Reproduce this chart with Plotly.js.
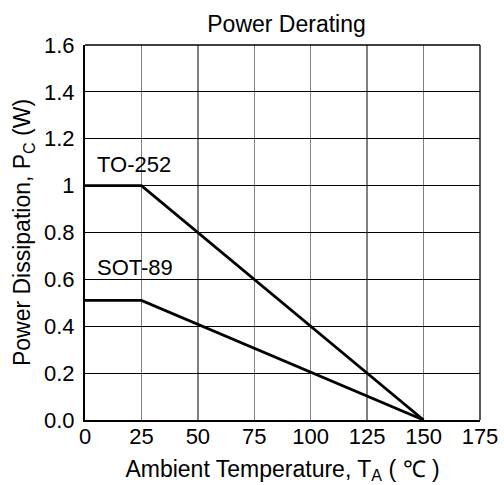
<!DOCTYPE html>
<html><head><meta charset="utf-8">
<script src="https://cdn.plot.ly/plotly-3.0.1.min.js"></script>
<style>html,body{margin:0;padding:0;background:#fff}#chart{width:504px;height:485px}</style>
</head><body><div id="chart"></div>
<script>
const temps = [0, 25, 150];
const to252 = [1.0, 1.0, 0.0];
const sot89 = [0.51, 0.51, 0.0];
const xTicks = [0, 25, 50, 75, 100, 125, 150, 175];
const yTicks = [0, 0.2, 0.4, 0.6, 0.8, 1.0, 1.2, 1.4, 1.6];
const yTickLabels = ['0.0', '0.2', '0.4', '0.6', '0.8', '1', '1.2', '1.4', '1.6'];
const seriesLabels = ['TO-252', 'SOT-89'];
const labelPos = [[4.5, 1.09], [4.5, 0.65]];

const font = 'Liberation Sans, Arial, sans-serif';
const traces = [
  {x: temps, y: to252, mode: 'lines', line: {color: '#000', width: 2.8}, name: seriesLabels[0], cliponaxis: false},
  {x: temps, y: sot89, mode: 'lines', line: {color: '#000', width: 2.8}, name: seriesLabels[1], cliponaxis: false}
];
const layout = {
  width: 504, height: 485,
  margin: {l: 85, r: 24, t: 45, b: 65},
  paper_bgcolor: '#fff', plot_bgcolor: '#fff',
  showlegend: false,
  font: {family: font, color: '#000', size: 22},
  title: {text: 'Power Derating', font: {size: 23, family: font, color: '#000'}, x: 0.5685, xanchor: 'center', yref: 'container', y: 0.951, yanchor: 'middle'},
  xaxis: {
    range: [0, 175], tickvals: xTicks, ticktext: xTicks.map(String),
    showgrid: true, gridcolor: '#808080', gridwidth: 1.3,
    showline: true, linecolor: '#000', linewidth: 2,
    ticks: '', zeroline: false, tickfont: {size: 22},
    ticklabelstandoff: -4,
    title: {text: 'Ambient Temperature, T<sub>A</sub> ( \u2103 )', font: {size: 23}, standoff: 12}
  },
  yaxis: {
    range: [0, 1.6], tickvals: yTicks, ticktext: yTickLabels,
    showgrid: true, gridcolor: '#000', gridwidth: 1,
    showline: true, linecolor: '#000', linewidth: 2,
    ticks: '', zeroline: false, tickfont: {size: 22},
    ticklabelstandoff: 4,
    title: {text: 'Power Dissipation, P<sub>C</sub> (W)', font: {size: 23}, standoff: 7}
  },
  shapes: [
    {type: 'line', xref: 'paper', yref: 'paper', x0: 0, x1: 1, y0: 1, y1: 1, line: {color: '#000', width: 1.3}},
    {type: 'line', xref: 'paper', yref: 'paper', x0: 1, x1: 1, y0: 0, y1: 1, line: {color: '#000', width: 1.3}}
  ],
  annotations: seriesLabels.map((t, i) => ({
    x: labelPos[i][0], y: labelPos[i][1], xref: 'x', yref: 'y', text: t,
    showarrow: false, xanchor: 'left', yanchor: 'middle', font: {size: 22}
  }))
};
Plotly.newPlot('chart', traces, layout, {displayModeBar: false, staticPlot: true});
</script></body></html>
